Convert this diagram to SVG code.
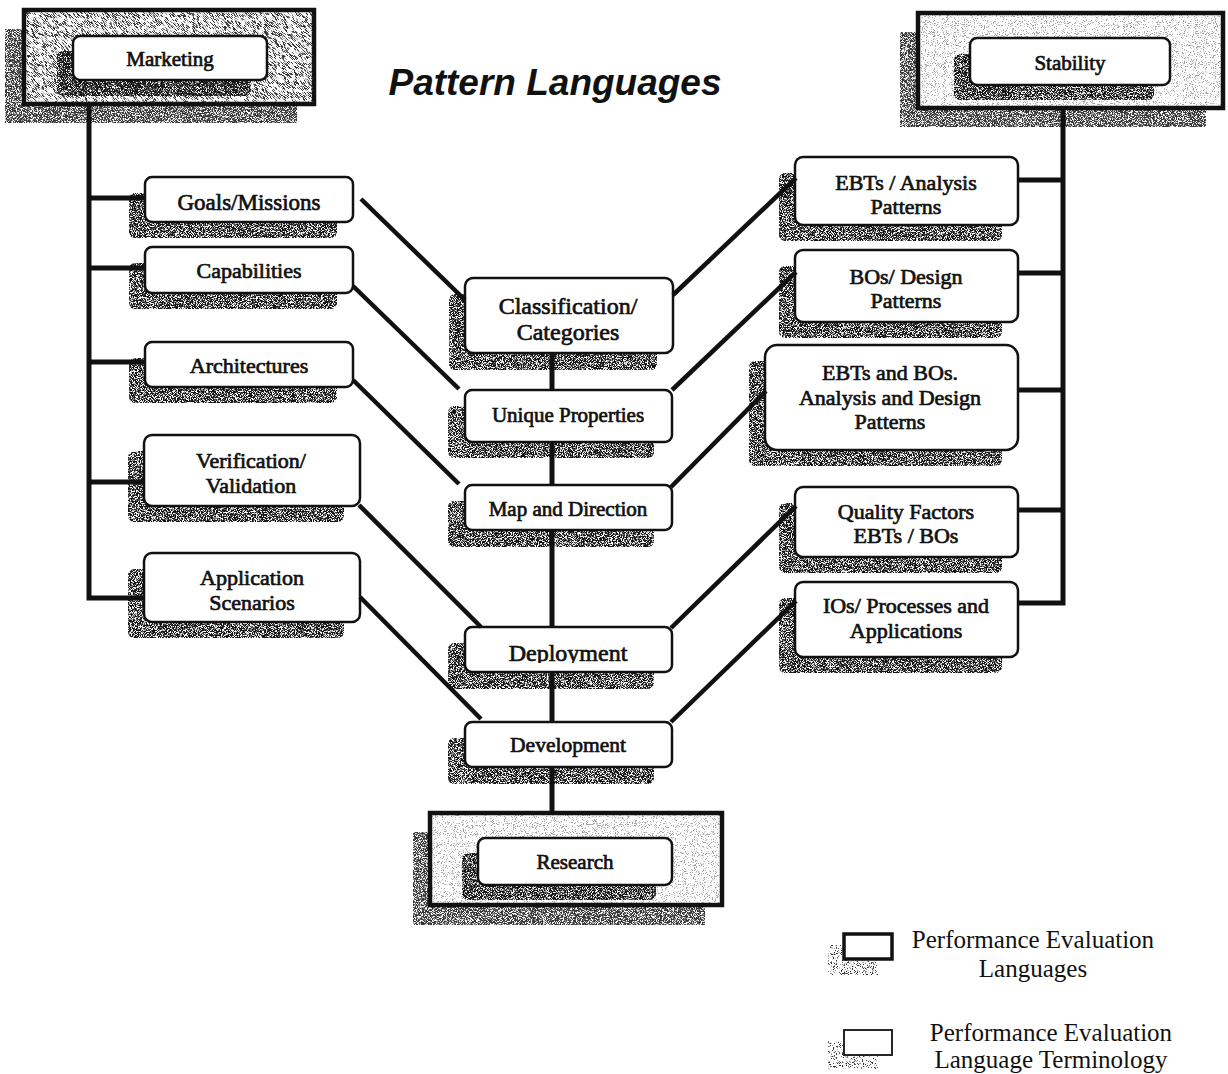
<svg xmlns="http://www.w3.org/2000/svg" width="1228" height="1074" viewBox="0 0 1228 1074">
  <defs>
    <!-- dense speckle used for drop shadows -->
    <filter id="stipDark" x="0" y="0" width="1" height="1" color-interpolation-filters="sRGB">
      <feTurbulence type="fractalNoise" baseFrequency="1.2" numOctaves="2" seed="7"/>
      <feColorMatrix type="matrix" values="0 0 0 0 0.08  0 0 0 0 0.08  0 0 0 0 0.08  7 0 0 0 -2.75"/>
      <feComposite in2="SourceAlpha" operator="in"/>
    </filter>
    <!-- medium speckle for the language frames -->
    <filter id="stipMid" x="0" y="0" width="1" height="1" color-interpolation-filters="sRGB">
      <feTurbulence type="fractalNoise" baseFrequency="1.1" numOctaves="2" seed="11"/>
      <feColorMatrix type="matrix" values="0 0 0 0 0.2  0 0 0 0 0.2  0 0 0 0 0.2  9 0 0 0 -5.1"/>
      <feComposite in2="SourceAlpha" operator="in"/>
    </filter>
    <!-- sparse specks inside the term boxes -->
    <filter id="stipLight" x="0" y="0" width="1" height="1" color-interpolation-filters="sRGB">
      <feTurbulence type="fractalNoise" baseFrequency="1.0" numOctaves="2" seed="23"/>
      <feColorMatrix type="matrix" values="0 0 0 0 0.35  0 0 0 0 0.35  0 0 0 0 0.35  14 0 0 0 -10.0"/>
      <feComposite in2="SourceAlpha" operator="in"/>
    </filter>
    <clipPath id="clipDeploy">
      <rect x="465" y="627" width="207" height="36"/>
    </clipPath>
  </defs>
  <style>
    .shadow { fill: #000; filter: url(#stipDark); }
    .frameShadow { fill: #000; filter: url(#stipDark); opacity: 0.85; }
    .frame { fill: #fff; stroke: #111; stroke-width: 4.5; }
    .frameSpeck { fill: #000; filter: url(#stipMid); }
    .legendShadow { fill: #000; filter: url(#stipMid); }
    .box { fill: #fff; stroke: #111; stroke-width: 2.5; }
    .speck { fill: #000; filter: url(#stipLight); }
    .lbl { font-family: "Liberation Serif", "Times New Roman", serif; fill: #111; stroke: #111; stroke-width: 0.7; text-anchor: middle; }
    .conn { stroke: #111; stroke-width: 5; fill: none; stroke-linecap: butt; }
    .diag { stroke: #111; stroke-width: 4.5; fill: none; }
    .title { font-family: "Liberation Sans", Arial, sans-serif; font-weight: bold; font-style: italic; font-size: 37px; fill: #111; text-anchor: middle; }
    .legend { font-family: "Liberation Serif", "Times New Roman", serif; font-size: 25px; fill: #111; text-anchor: middle; }
  </style>

  <rect width="1228" height="1074" fill="#fff"/>

  <text class="title" x="555" y="95">Pattern Languages</text>

  <!-- language frames -->
  <g id="marketing">
    <rect class="frameShadow" x="5" y="29" width="292" height="94"/>
    <rect class="frame" x="24" y="10" width="290" height="94"/>
    <rect class="frameSpeck" x="26" y="12" width="286" height="90"/>
    <rect class="frameSpeck" x="26" y="12" width="286" height="90" transform="translate(1,1)"/>
    <rect class="shadow" x="57" y="51" width="194" height="45" rx="6"/>
    <rect class="box" x="73" y="36" width="194" height="44" rx="7"/>
    <text class="lbl" x="170" y="66" font-size="21">Marketing</text>
  </g>

  <g id="stability">
    <rect class="frameShadow" x="900" y="32" width="306" height="95"/>
    <rect class="frame" x="918" y="13" width="305" height="95"/>
    <rect class="frameSpeck" x="920" y="15" width="301" height="91" opacity="0.45"/>
    <rect class="shadow" x="954" y="54" width="200" height="46" rx="6"/>
    <rect class="box" x="970" y="38" width="200" height="47" rx="7"/>
    <text class="lbl" x="1070" y="70" font-size="21">Stability</text>
  </g>

  <g id="research">
    <rect class="frameShadow" x="413" y="832" width="292" height="93"/>
    <rect class="frame" x="430" y="813" width="292" height="92"/>
    <rect class="frameSpeck" x="432" y="815" width="288" height="88" opacity="0.45"/>
    <rect class="shadow" x="462" y="853" width="194" height="47" rx="6"/>
    <rect class="box" x="478" y="838" width="194" height="47" rx="7"/>
    <text class="lbl" x="575" y="869" font-size="21">Research</text>
  </g>

  <!-- marketing-side terms -->
  <g id="goals">
    <rect class="shadow" x="129" y="193" width="208" height="45" rx="6"/>
    <rect class="box" x="145" y="177" width="208" height="45" rx="7"/>
    <rect class="speck" x="147" y="179" width="204" height="41"/>
    <text class="lbl" x="249" y="210" font-size="23">Goals/Missions</text>
  </g>
  <g id="capabilities">
    <rect class="shadow" x="129" y="263" width="208" height="46" rx="6"/>
    <rect class="box" x="145" y="247" width="208" height="46" rx="7"/>
    <rect class="speck" x="147" y="249" width="204" height="42"/>
    <text class="lbl" x="249" y="278" font-size="22">Capabilities</text>
  </g>
  <g id="architectures">
    <rect class="shadow" x="129" y="358" width="208" height="45" rx="6"/>
    <rect class="box" x="145" y="342" width="208" height="45" rx="7"/>
    <rect class="speck" x="147" y="344" width="204" height="41"/>
    <text class="lbl" x="249" y="373" font-size="22">Architectures</text>
  </g>
  <g id="verification">
    <rect class="shadow" x="128" y="451" width="216" height="71" rx="6"/>
    <rect class="box" x="144" y="435" width="216" height="71" rx="8"/>
    <rect class="speck" x="146" y="437" width="212" height="67"/>
    <text class="lbl" x="251" y="468" font-size="22">Verification/</text>
    <text class="lbl" x="251" y="493" font-size="22">Validation</text>
  </g>
  <g id="application">
    <rect class="shadow" x="128" y="569" width="216" height="69" rx="6"/>
    <rect class="box" x="144" y="553" width="216" height="69" rx="8"/>
    <rect class="speck" x="146" y="555" width="212" height="65"/>
    <text class="lbl" x="252" y="585" font-size="22">Application</text>
    <text class="lbl" x="252" y="610" font-size="22">Scenarios</text>
  </g>

  <!-- central spine terms -->
  <g id="classification">
    <rect class="shadow" x="449" y="294" width="208" height="76" rx="6"/>
    <rect class="box" x="465" y="278" width="208" height="75" rx="8"/>
    <rect class="speck" x="467" y="280" width="204" height="71"/>
    <text class="lbl" x="568" y="314" font-size="24">Classification/</text>
    <text class="lbl" x="568" y="340" font-size="24">Categories</text>
  </g>
  <g id="unique">
    <rect class="shadow" x="448" y="406" width="206" height="52" rx="6"/>
    <rect class="box" x="465" y="390" width="207" height="52" rx="7"/>
    <rect class="speck" x="467" y="392" width="203" height="48"/>
    <text class="lbl" x="568" y="422" font-size="21">Unique Properties</text>
  </g>
  <g id="map">
    <rect class="shadow" x="448" y="501" width="206" height="46" rx="6"/>
    <rect class="box" x="465" y="485" width="207" height="45" rx="7"/>
    <rect class="speck" x="467" y="487" width="203" height="41"/>
    <text class="lbl" x="568" y="516" font-size="21">Map and Direction</text>
  </g>
  <g id="deployment">
    <rect class="shadow" x="448" y="643" width="206" height="46" rx="6"/>
    <rect class="box" x="465" y="627" width="207" height="45" rx="7"/>
    <rect class="speck" x="467" y="629" width="203" height="41"/>
    <text class="lbl" x="568" y="661" font-size="24" clip-path="url(#clipDeploy)">Deployment</text>
  </g>
  <g id="development">
    <rect class="shadow" x="448" y="738" width="206" height="46" rx="6"/>
    <rect class="box" x="465" y="722" width="207" height="45" rx="7"/>
    <rect class="speck" x="467" y="724" width="203" height="41"/>
    <text class="lbl" x="568" y="752" font-size="21.5">Development</text>
  </g>

  <!-- stability-side terms -->
  <g id="ebtsAnalysis">
    <rect class="shadow" x="779" y="173" width="223" height="68" rx="6"/>
    <rect class="box" x="795" y="157" width="223" height="68" rx="8"/>
    <rect class="speck" x="797" y="159" width="219" height="64"/>
    <text class="lbl" x="906" y="190" font-size="22">EBTs / Analysis</text>
    <text class="lbl" x="906" y="214" font-size="22">Patterns</text>
  </g>
  <g id="bosDesign">
    <rect class="shadow" x="779" y="266" width="223" height="72" rx="6"/>
    <rect class="box" x="795" y="250" width="223" height="72" rx="8"/>
    <rect class="speck" x="797" y="252" width="219" height="68"/>
    <text class="lbl" x="906" y="284" font-size="22">BOs/ Design</text>
    <text class="lbl" x="906" y="308" font-size="22">Patterns</text>
  </g>
  <g id="ebtsBos">
    <rect class="shadow" x="749" y="361" width="253" height="105" rx="6"/>
    <rect class="box" x="765" y="345" width="253" height="105" rx="12"/>
    <rect class="speck" x="767" y="347" width="249" height="101"/>
    <text class="lbl" x="890" y="380" font-size="22">EBTs  and BOs.</text>
    <text class="lbl" x="890" y="405" font-size="22">Analysis and Design</text>
    <text class="lbl" x="890" y="429" font-size="22">Patterns</text>
  </g>
  <g id="quality">
    <rect class="shadow" x="779" y="503" width="223" height="70" rx="6"/>
    <rect class="box" x="795" y="487" width="223" height="70" rx="8"/>
    <rect class="speck" x="797" y="489" width="219" height="66"/>
    <text class="lbl" x="906" y="519" font-size="22">Quality Factors</text>
    <text class="lbl" x="906" y="543" font-size="22">EBTs / BOs</text>
  </g>
  <g id="ios">
    <rect class="shadow" x="779" y="598" width="223" height="75" rx="6"/>
    <rect class="box" x="795" y="582" width="223" height="75" rx="8"/>
    <rect class="speck" x="797" y="584" width="219" height="71"/>
    <text class="lbl" x="906" y="613" font-size="22">IOs/ Processes and</text>
    <text class="lbl" x="906" y="638" font-size="22">Applications</text>
  </g>

  <!-- connectors -->
  <g id="connectors">
    <!-- marketing trunk and branches -->
    <polyline class="conn" points="89,104 89,598 145,598"/>
    <line class="conn" x1="89" y1="198" x2="145" y2="198"/>
    <line class="conn" x1="89" y1="268" x2="145" y2="268"/>
    <line class="conn" x1="89" y1="362" x2="145" y2="362"/>
    <line class="conn" x1="89" y1="482" x2="144" y2="482"/>
    <!-- stability trunk and branches -->
    <polyline class="conn" points="1063,108 1063,603 1018,603"/>
    <line class="conn" x1="1018" y1="180" x2="1063" y2="180"/>
    <line class="conn" x1="1018" y1="273" x2="1063" y2="273"/>
    <line class="conn" x1="1018" y1="390" x2="1063" y2="390"/>
    <line class="conn" x1="1018" y1="510" x2="1063" y2="510"/>
    <!-- central spine -->
    <line class="conn" x1="552" y1="353" x2="552" y2="390"/>
    <line class="conn" x1="552" y1="442" x2="552" y2="485"/>
    <line class="conn" x1="552" y1="530" x2="552" y2="627"/>
    <line class="conn" x1="552" y1="672" x2="552" y2="722"/>
    <line class="conn" x1="552" y1="767" x2="552" y2="813"/>
    <!-- left diagonals -->
    <line class="diag" x1="361" y1="199" x2="465" y2="300"/>
    <line class="diag" x1="353" y1="286" x2="459" y2="389"/>
    <line class="diag" x1="353" y1="380" x2="459" y2="484"/>
    <line class="diag" x1="359" y1="505" x2="481" y2="627"/>
    <line class="diag" x1="360" y1="597" x2="481" y2="719"/>
    <!-- right diagonals -->
    <line class="diag" x1="673" y1="295" x2="796" y2="178"/>
    <line class="diag" x1="672" y1="390" x2="796" y2="272"/>
    <line class="diag" x1="671" y1="487" x2="766" y2="391"/>
    <line class="diag" x1="671" y1="628" x2="796" y2="506"/>
    <line class="diag" x1="671" y1="722" x2="796" y2="601"/>
  </g>

  <!-- legend -->
  <g id="legendLanguages">
    <rect class="legendShadow" x="828" y="945" width="50" height="30"/>
    <rect x="844" y="934" width="48" height="25" fill="#fff" stroke="#111" stroke-width="3.5"/>
    <text class="legend" x="1033" y="948">Performance Evaluation</text>
    <text class="legend" x="1033" y="977">Languages</text>
  </g>
  <g id="legendTerminology">
    <rect class="legendShadow" x="828" y="1041" width="50" height="28"/>
    <rect x="844" y="1030" width="48" height="25" fill="#fff" stroke="#111" stroke-width="1.8"/>
    <text class="legend" x="1051" y="1041">Performance Evaluation</text>
    <text class="legend" x="1051" y="1068">Language Terminology</text>
  </g>
</svg>
